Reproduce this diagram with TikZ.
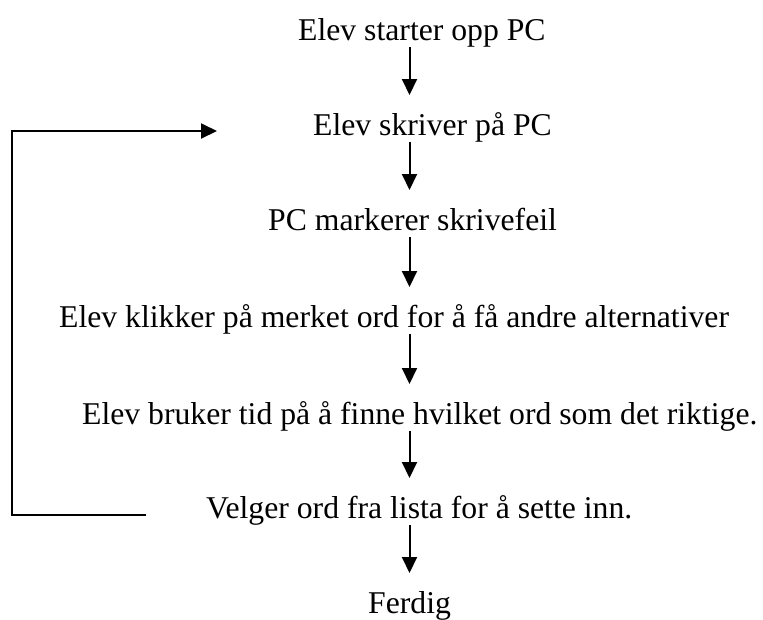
\documentclass[tikz,border=0pt]{standalone}
\usepackage{fontspec}
\setmainfont{Liberation Serif}
\usetikzlibrary{arrows.meta}
\begin{document}
\begin{tikzpicture}[x=1pt,y=-1pt,
  stepname/.style={anchor=base west,inner sep=0pt,font=\fontsize{31.7}{38}\selectfont},
  flow/.style={line width=2pt,-{Triangle[length=16pt,width=15pt]}},
  loopline/.style={line width=2pt}]
\useasboundingbox (0,0) rectangle (763,619);
% steps of the process
\node[stepname] (s1) at (298,40)  {Elev starter opp PC};
\node[stepname] (s2) at (313,135) {Elev skriver på PC};
\node[stepname] (s3) at (268,230) {PC markerer skrivefeil};
\node[stepname] (s4) at (59,327)  {Elev klikker på merket ord for å få andre alternativer};
\node[stepname] (s5) at (82,424)  {Elev bruker tid på å finne hvilket ord som det riktige.};
\node[stepname] (s6) at (206,518) {Velger ord fra lista for å sette inn.};
\node[stepname] (s7) at (368,613) {Ferdig};
% common axis of the downward arrows, left side of the return loop
\coordinate (ax) at (409.5,0);
\coordinate (lx) at (12,323);
% downward arrows
\foreach \a/\b in {s1/s2,s2/s3,s3/s4,s4/s5,s5/s6,s6/s7}
  \draw[flow] ([yshift=-7pt]\a.base -| ax) -- ([yshift=40pt]\b.base -| ax);
% return loop from choosing a word back to writing
\draw[loopline] ([xshift=-60pt,yshift=3pt]s6.base west) -| (lx);
\draw[flow] (lx) |- ([xshift=-96pt,yshift=4pt]s2.base west);
\end{tikzpicture}
\end{document}
